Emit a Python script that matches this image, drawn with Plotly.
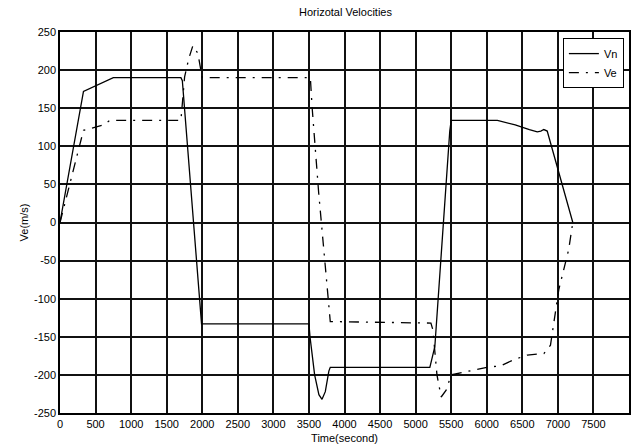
import plotly.graph_objects as go

# Vn (solid)
vn_t = [0, 330, 750, 1700, 1720, 1990, 3500, 3515, 3580, 3640, 3684, 3730, 3780, 3800,
        5200, 5270, 5480, 5500, 6150, 6400, 6600, 6710, 6760, 6803, 6850, 7210]
vn_v = [0, 172, 190, 190, 186, -133, -133, -150, -200, -226, -232, -222, -195, -190,
        -190, -163, 120, 134, 134, 128, 122, 119, 120, 122, 120, 0]

# Ve (dash-dot)
ve_t = [0, 330, 610, 700, 1700, 1752, 1810, 1868, 1938, 1985, 2000, 3520, 3544, 3637,
        3753, 3800, 5215, 5243, 5300, 5359, 5429, 5499, 6000, 6196, 6383, 6570, 6803,
        6896, 7013, 7151, 7210]
ve_v = [0, 121, 128, 134, 134, 191, 215, 232, 222, 200, 190, 190, 152, 39,
        -80, -130, -132, -141, -200, -229, -220, -200, -190, -188, -180, -174, -172,
        -161, -88, -36, 0]

x_ticks = list(range(0, 8000, 500))
y_ticks = list(range(-250, 251, 50))

FONT = "Liberation Sans, Arial, sans-serif"

fig = go.Figure()
fig.add_trace(go.Scatter(x=vn_t, y=vn_v, mode="lines", name="Vn",
                         line=dict(color="black", width=1.3)))
fig.add_trace(go.Scatter(x=ve_t, y=ve_v, mode="lines", name="Ve",
                         line=dict(color="black", width=1.3, dash="10px,7px,2px,7px")))

axis_common = dict(showgrid=True, gridcolor="#111", gridwidth=1.5,
                   showline=True, linecolor="black", linewidth=1.5, mirror=True,
                   zeroline=False, ticks="", tickfont=dict(size=11, color="black", family=FONT))

fig.update_layout(
    width=631, height=448,
    margin=dict(l=60, r=0, t=32, b=35),
    paper_bgcolor="white", plot_bgcolor="white",
    font=dict(family=FONT, size=11, color="black"),
    title=dict(text="Horizotal Velocities", x=(60 + 631) / 2 / 631, xanchor="center",
               y=1 - 12 / 448, yanchor="middle", font=dict(size=11)),
    xaxis=dict(range=[0, 8000], tickvals=x_ticks, ticktext=[str(v) for v in x_ticks],
               title=dict(text="Time(second)", standoff=5, font=dict(size=11)), **axis_common),
    yaxis=dict(range=[-250, 250], tickvals=y_ticks, ticktext=[str(v) for v in y_ticks],
               title=dict(text="Ve(m/s)", standoff=3, font=dict(size=11)), **axis_common),
    legend=dict(x=0.991, y=0.984, xanchor="right", yanchor="top",
                bgcolor="white", bordercolor="black", borderwidth=1,
                font=dict(size=11), tracegroupgap=0, itemwidth=30),
    showlegend=True,
)

fig.write_html("out.html")
